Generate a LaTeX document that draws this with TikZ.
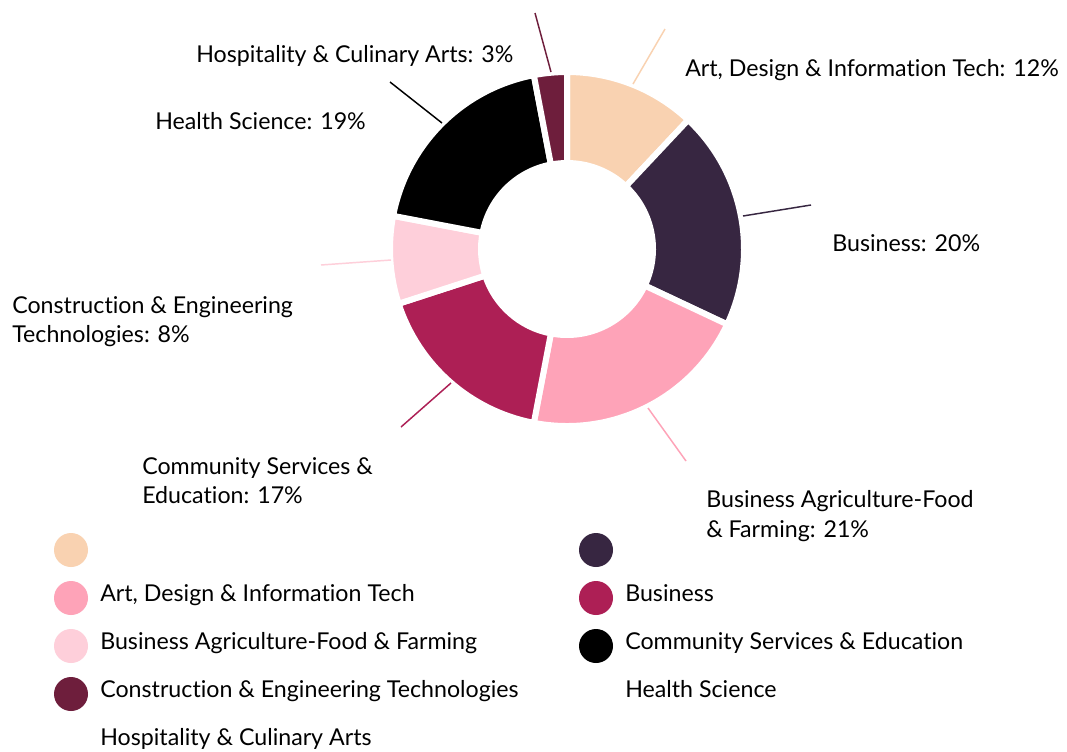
\documentclass[tikz,border=0pt]{standalone}
\usepackage{fontspec}
\setmainfont{Lato}[Ligatures=NoCommon]
\definecolor{cArt}{HTML}{F9D2B1}
\definecolor{cBus}{HTML}{372641}
\definecolor{cAgri}{HTML}{FEA3B8}
\definecolor{cComm}{HTML}{AD1F55}
\definecolor{cCons}{HTML}{FECFDA}
\definecolor{cHealth}{HTML}{000000}
\definecolor{cHosp}{HTML}{6E1E3C}
\tikzset{
  lbl/.style={anchor=base west, inner sep=0pt, font=\fontsize{17.4}{20}\selectfont, text=black},
  leader/.style={line width=1.1pt},
  wedge/.style={draw=white, line width=4.5pt, line join=miter},
  dot/.style={circle, minimum size=25.5pt, inner sep=0pt},
}
\newcommand{\ringseg}[3]{% color, start pct, end pct
  \path[wedge, fill=#1]
    ($(ctr)+({-90+3.6*#2}:177)$) arc[start angle={-90+3.6*#2}, end angle={-90+3.6*#3}, radius=177]
    -- ($(ctr)+({-90+3.6*#3}:86)$) arc[start angle={-90+3.6*#3}, end angle={-90+3.6*#2}, radius=86] -- cycle;}
\usetikzlibrary{calc}
\begin{document}
\begin{tikzpicture}[x=0.75pt, y=-0.75pt]
\useasboundingbox[fill=white] (0,0) rectangle (1067,751);
\coordinate (ctr) at (567,249);
% donut
\ringseg{cArt}{0}{12}
\ringseg{cBus}{12}{32}
\ringseg{cAgri}{32}{53}
\ringseg{cComm}{53}{70}
\ringseg{cCons}{70}{78}
\ringseg{cHealth}{78}{97}
\ringseg{cHosp}{97}{100}
% leader lines
\coordinate (artA) at (633,84);  \coordinate (artB) at (665,29);
\coordinate (busA) at (743,216); \coordinate (busB) at (811,205);
\coordinate (agrA) at (648,408); \coordinate (agrB) at (686,461);
\coordinate (comA) at (451,383); \coordinate (comB) at (401,427);
\coordinate (conA) at (391,260); \coordinate (conB) at (321,265);
\coordinate (heaA) at (442,123); \coordinate (heaB) at (390,82);
\coordinate (hosA) at (551,72);  \coordinate (hosB) at (535,13);
\draw[leader, cArt] (artA) -- (artB);
\draw[leader, cBus] (busA) -- (busB);
\draw[leader, cAgri] (agrA) -- (agrB);
\draw[leader, cComm] (comA) -- (comB);
\draw[leader, cCons] (conA) -- (conB);
\draw[leader, cHealth] (heaA) -- (heaB);
\draw[leader, cHosp] (hosA) -- (hosB);
% labels
\node[lbl] (tArt) at (685,76) {Art, Design \& Information Tech: 12\%};
\node[lbl] (tBus) at (832,251) {Business: 20\%};
\node[lbl] (tAgr1) at (706,507) {Business Agriculture-Food};
\node[lbl] (tAgr2) at (706,537) {\& Farming: 21\%};
\node[lbl] (tCom1) at (142,474) {Community Services \&};
\node[lbl] (tCom2) at (142,503) {Education: 17\%};
\node[lbl] (tCon1) at (12,313) {Construction \& Engineering};
\node[lbl] (tCon2) at (12,342) {Technologies: 8\%};
\node[lbl] (tHea) at (155,129) {Health Science: 19\%};
\node[lbl] (tHos) at (196,62) {Hospitality \& Culinary Arts: 3\%};
% legend
\node[dot, fill=cArt] (d1) at (71,550) {};
\node[dot, fill=cAgri] (d2) at (71,598) {};
\node[dot, fill=cCons] (d3) at (71,646) {};
\node[dot, fill=cHosp] (d4) at (71,694) {};
\node[dot, fill=cBus] (d5) at (596,550) {};
\node[dot, fill=cComm] (d6) at (596,598) {};
\node[dot, fill=cHealth] (d7) at (596,646) {};
\node[lbl] (l1) at (100,601) {Art, Design \& Information Tech};
\node[lbl] (l2) at (100,649) {Business Agriculture-Food \& Farming};
\node[lbl] (l3) at (100,697) {Construction \& Engineering Technologies};
\node[lbl] (l4) at (100,745) {Hospitality \& Culinary Arts};
\node[lbl] (l5) at (625,601) {Business};
\node[lbl] (l6) at (625,649) {Community Services \& Education};
\node[lbl] (l7) at (625,697) {Health Science};
\end{tikzpicture}
\end{document}
